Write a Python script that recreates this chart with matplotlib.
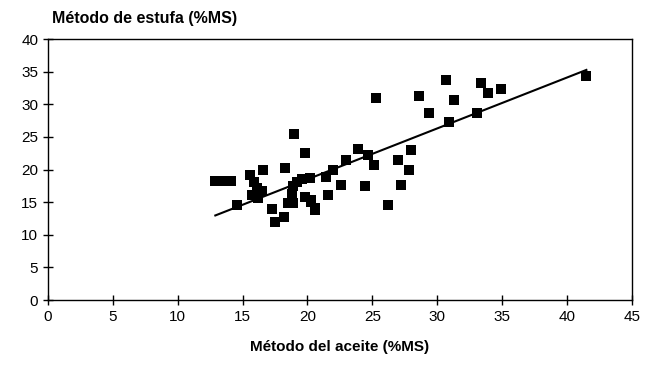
import matplotlib
matplotlib.use("Agg")
import matplotlib.pyplot as plt
import numpy as np

plt.rcParams['font.family'] = ['Liberation Sans', 'DejaVu Sans']

# Data (x: Método del aceite, y: Método de estufa)
aceite = [12.9, 13.5, 14.1, 14.6, 15.6, 15.9, 16.1, 15.7, 16.2, 16.6, 16.5,
          17.3, 17.5, 18.2, 18.3, 19.0, 19.8, 18.8, 18.5, 19.2, 19.6, 20.2,
          18.9, 19.8, 20.3, 20.6, 21.4, 21.6, 22.0, 22.6, 23.0, 23.9, 24.7,
          25.1, 24.4, 26.2, 27.0, 27.2, 27.8, 28.0, 25.3, 28.6, 29.4, 30.7,
          31.3, 30.9, 33.1, 33.4, 33.9, 34.9, 41.5, 18.9, 20.3, 20.6]
estufa = [18.3, 18.3, 18.3, 14.6, 19.1, 18.1, 17.1, 16.1, 15.6, 20.0, 16.7,
          14.0, 12.0, 12.8, 20.3, 25.4, 22.6, 16.3, 14.8, 18.1, 18.5, 18.7,
          17.5, 15.8, 15.1, 13.8, 18.9, 16.1, 19.9, 17.6, 21.4, 23.1, 22.2,
          20.7, 17.5, 14.6, 21.4, 17.6, 20.0, 23.0, 30.9, 31.2, 28.7, 33.8,
          30.7, 27.3, 28.7, 33.3, 31.8, 32.3, 34.3, 14.8, 15.3, 14.1]

fit_slope = 0.78
fit_intercept = 2.9

x_ticks = [0, 5, 10, 15, 20, 25, 30, 35, 40, 45]
y_ticks = [0, 5, 10, 15, 20, 25, 30, 35, 40]

fig = plt.figure(figsize=(6.48, 3.65), dpi=100)
ax = fig.add_axes([0.074, 0.178, 0.901, 0.715])

ax.plot(aceite, estufa, linestyle='none', marker='s', markersize=7.5,
        color='black', markeredgewidth=0)
xl = np.array([min(aceite), max(aceite)])
ax.plot(xl, fit_slope * xl + fit_intercept, color='black', linewidth=1.5)

ax.set_xlim(0, 45)
ax.set_ylim(0, 40)
ax.set_xticks(x_ticks)
ax.set_yticks(y_ticks)
ax.tick_params(direction='inout', length=7, width=1, labelsize=11, colors='black')
for s in ax.spines.values():
    s.set_linewidth(1.0)
    s.set_color('black')

fig.text(0.08, 0.95, 'Método de estufa (%MS)', fontsize=11.5, fontweight='bold',
         ha='left', va='center')
ax.set_xlabel('Método del aceite (%MS)', fontsize=11, fontweight='bold', labelpad=12)

fig.savefig('out.png', dpi=100)
